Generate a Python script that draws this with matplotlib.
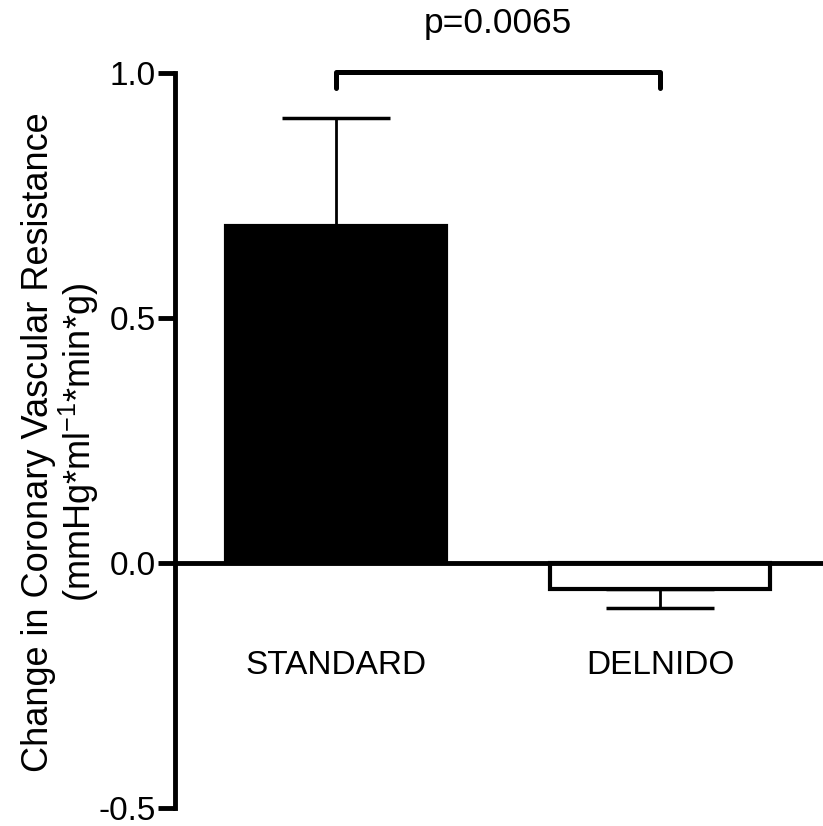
import numpy as np
import matplotlib
matplotlib.use("Agg")
import matplotlib.pyplot as plt

plt.rcParams['font.family'] = ['Liberation Sans', 'DejaVu Sans']
plt.rcParams['mathtext.fontset'] = 'custom'
plt.rcParams['mathtext.rm'] = 'Liberation Sans'
plt.rcParams['axes.unicode_minus'] = False

# data
groups = ['STANDARD', 'DELNIDO']
means = [0.688, -0.053]
sems = [0.221, 0.038]
face_colors = ['black', 'white']
p_label = 'p=0.0065'
y_ticks = [-0.5, 0.0, 0.5, 1.0]
y_ticklabels = ['-0.5', '0.0', '0.5', '1.0']

fig = plt.figure(figsize=(8.23, 8.26), dpi=100)
ax = fig.add_axes([175 / 823, 18 / 826, 648 / 823, 735 / 826])

x = np.arange(len(groups))
bars = ax.bar(x, means, width=0.68, color=face_colors, edgecolor='black',
              linewidth=3, zorder=2)

# one-sided error bars (away from zero)
for xi, m, s in zip(x, means, sems):
    err = [[0], [s]] if m >= 0 else [[s], [0]]
    ax.errorbar(xi, m, yerr=err, fmt='none', ecolor='black', elinewidth=2,
                capsize=39, capthick=2.5, zorder=1)

ax.set_xlim(-0.497, 1.503)
ax.set_ylim(-0.5, 1.0)

ax.spines['top'].set_visible(False)
ax.spines['right'].set_visible(False)
ax.spines['bottom'].set_position(('data', 0))
ax.spines['left'].set_linewidth(3.5)
ax.spines['bottom'].set_linewidth(3.5)
ax.spines['left'].set_capstyle('projecting')
ax.set_xticks([])
ax.set_yticks(y_ticks)
ax.set_yticklabels(y_ticklabels, fontsize=24)
ax.tick_params(axis='y', length=12, width=3.5, pad=2)

for xi, name in zip(x, groups):
    ax.text(xi, -0.21, name, ha='center', va='center', fontsize=24)

# significance bracket
ax.plot([x[0], x[0], x[1], x[1]], [0.97, 1.002, 1.002, 0.97], color='black',
        lw=3.6, solid_capstyle='round', solid_joinstyle='round', clip_on=False)
ax.text((x[0] + x[1]) / 2, 1.082, p_label, ha='center', va='baseline',
        fontsize=25.5, clip_on=False)

fig.text(61 / 823, 1 - 442 / 826,
         'Change in Coronary Vascular Resistance\n(mmHg*ml$^{\\mathregular{-1}}$*min*g)',
         rotation=90, ha='center', va='center', fontsize=26, linespacing=1.05)

fig.savefig('out.png', dpi=100)
